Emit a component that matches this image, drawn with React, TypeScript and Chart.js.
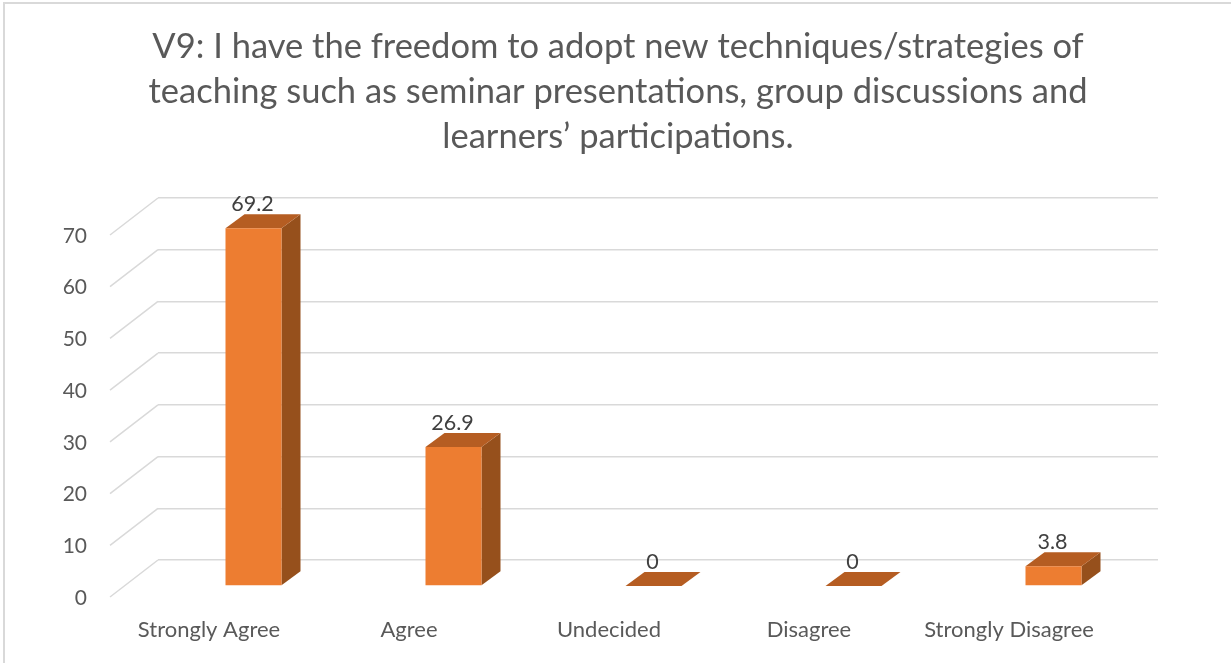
import React, { useEffect, useRef } from 'react';
import { Chart, registerables } from 'chart.js';

Chart.register(...registerables);

// ---- data ----
const titleLines = [
  'V9: I have the freedom to adopt new techniques/strategies of',
  'teaching such as seminar presentations, group discussions and',
  'learners’ participations.',
];
const categories = ['Strongly Agree', 'Agree', 'Undecided', 'Disagree', 'Strongly Disagree'];
const values = [69.2, 26.9, 0, 0, 3.8];
const valueLabels = ['69.2', '26.9', '0', '0', '3.8'];
const yMin = 0;
const yMax = 70;
const yStep = 10;

// ---- style ----
const FONT = 'Lato';
const FRONT_COLOR = '#ED7D31';
const TOP_COLOR = '#B55D22';
const SIDE_COLOR = '#96501C';
const GRID_COLOR = '#D9D9D9';
const TEXT_COLOR = '#595959';
const LABEL_COLOR = '#404040';
const DEPTH_X = 19;
const DEPTH_Y = -14;
const FRONT_X = -4.5;
const FRONT_Y = 26;
const WALL_X = -48;
const WALL_Y = 37;

const threeDPlugin = {
  id: 'threeD',
  beforeDatasetsDraw(chart: any) {
    const ctx = chart.ctx;
    const ys = chart.scales.y;
    const area = chart.chartArea;
    ctx.save();
    ctx.strokeStyle = GRID_COLOR;
    ctx.lineWidth = 1.5;
    ys.ticks.forEach((t: any) => {
      const py = ys.getPixelForValue(t.value);
      ctx.beginPath();
      ctx.moveTo(area.left, py);
      ctx.lineTo(area.left + WALL_X, py + WALL_Y);
      ctx.stroke();
    });
    ctx.restore();

    ctx.save();
    ctx.translate(FRONT_X, FRONT_Y);
    const meta = chart.getDatasetMeta(0);
    meta.data.forEach((el: any) => {
      const { x, y, base, width } = el.getProps(['x', 'y', 'base', 'width'], true);
      const L = x - width / 2;
      const R = x + width / 2;
      // side face
      ctx.fillStyle = SIDE_COLOR;
      ctx.beginPath();
      ctx.moveTo(R, y);
      ctx.lineTo(R + DEPTH_X, y + DEPTH_Y);
      ctx.lineTo(R + DEPTH_X, base + DEPTH_Y);
      ctx.lineTo(R, base);
      ctx.closePath();
      ctx.fill();
      // top face
      ctx.fillStyle = TOP_COLOR;
      ctx.beginPath();
      ctx.moveTo(L, y);
      ctx.lineTo(R, y);
      ctx.lineTo(R + DEPTH_X, y + DEPTH_Y);
      ctx.lineTo(L + DEPTH_X, y + DEPTH_Y);
      ctx.closePath();
      ctx.fill();
    });
  },
  afterDatasetsDraw(chart: any) {
    const ctx = chart.ctx;
    ctx.restore();
    const meta = chart.getDatasetMeta(0);
    ctx.save();
    ctx.fillStyle = LABEL_COLOR;
    ctx.font = `21.5px ${FONT}`;
    ctx.textAlign = 'center';
    ctx.textBaseline = 'middle';
    meta.data.forEach((el: any, i: number) => {
      const { x, y } = el.getProps(['x', 'y'], true);
      ctx.fillText(valueLabels[i], x + FRONT_X - 1, y + FRONT_Y + DEPTH_Y - 10);
    });
    ctx.restore();
  },
};

export default function App() {
  const ref = useRef<HTMLCanvasElement>(null);
  useEffect(() => {
    if (!ref.current) return;
    const chart = new Chart(ref.current, {
      type: 'bar',
      data: {
        labels: categories,
        datasets: [
          {
            data: values,
            backgroundColor: FRONT_COLOR,
            borderWidth: 0,
            categoryPercentage: 1,
            barPercentage: 0.28,
            clip: false as any,
            yAxisID: 'y',
          },
        ],
      },
      options: {
        responsive: false,
        animation: false,
        events: [],
        layout: { padding: { left: 5, right: 0, top: 0, bottom: 0 } },
        plugins: {
          legend: { display: false },
          tooltip: { enabled: false },
          title: {
            display: true,
            text: titleLines,
            color: TEXT_COLOR,
            font: { family: FONT, size: 34.5, weight: 'normal', lineHeight: 45 / 34.5 },
            padding: { top: 24.5, bottom: 38.5 },
          },
        },
        scales: {
          x: {
            grid: { display: false },
            border: { display: false },
            ticks: {
              color: TEXT_COLOR,
              font: { family: FONT, size: 22 },
              labelOffset: -49,
              padding: 49,
              maxRotation: 0,
              autoSkip: false,
            },
            afterFit: (s: any) => {
              s.height = 103;
            },
          },
          y: {
            min: yMin,
            max: yMax,
            grid: { color: GRID_COLOR, lineWidth: 1.5, drawTicks: false },
            border: { display: false },
            ticks: {
              stepSize: yStep,
              color: TEXT_COLOR,
              font: { family: FONT, size: 21 },
              padding: 71,
              labelOffset: 38,
            },
            afterFit: (s: any) => {
              s.width = 153;
            },
          },
          yRight: {
            position: 'right',
            display: true,
            grid: { display: false },
            border: { display: false },
            ticks: { display: false },
            afterFit: (s: any) => {
              s.width = 73;
            },
          },
        },
      },
      plugins: [threeDPlugin],
    } as any);
    return () => chart.destroy();
  }, []);

  return (
    <div style={{ position: 'fixed', left: 0, top: 0, width: 1231, height: 663, overflow: 'hidden', background: '#fff' }}>
      <div
        style={{
          position: 'absolute',
          left: 3,
          top: 2,
          width: 1260,
          height: 700,
          border: '2px solid #D9D9D9',
          boxSizing: 'border-box',
        }}
      />
      <canvas ref={ref} width={1231} height={663} style={{ position: 'absolute', left: 0, top: 0 }} />
    </div>
  );
}
